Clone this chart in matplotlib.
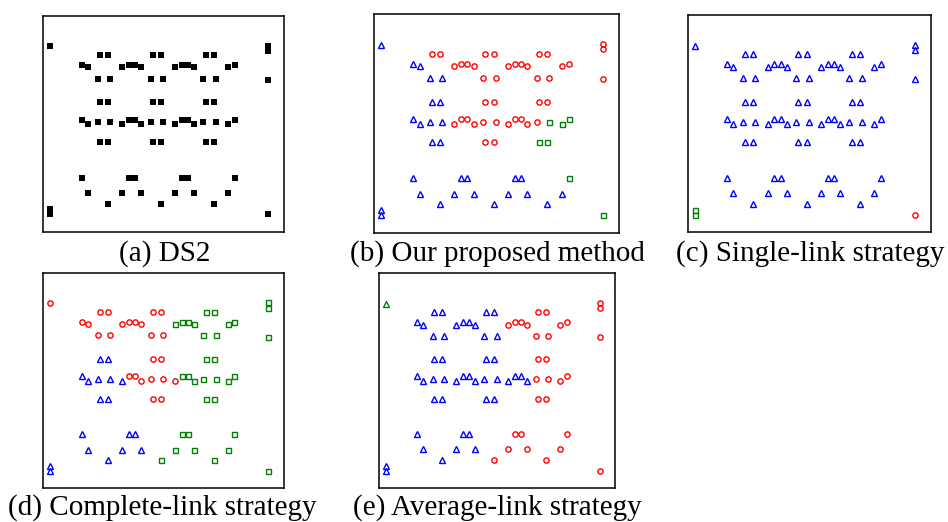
import matplotlib
matplotlib.use("Agg")
import matplotlib.pyplot as plt

# ---- data (percent of plotting box) ----
x_pts = [2.9, 93.4, 93.4, 93.4, 2.9, 2.9, 93.4,
         23.5, 26.9, 45.5, 48.9, 67.5, 70.9,
         16.1, 35.6, 38.2, 57.6, 60.2, 79.5,
         18.7, 32.8, 40.7, 54.7, 62.5, 76.7,
         22.8, 27.8, 44.6, 49.9, 66.5, 71.7,
         23.5, 26.9, 45.5, 48.9, 67.5, 70.9,
         16.1, 35.6, 38.2, 57.6, 60.2, 79.5,
         22.8, 27.8, 44.6, 49.9, 66.5, 71.7,
         18.7, 32.8, 40.7, 54.7, 62.5, 76.7,
         23.5, 26.9, 45.5, 48.9, 67.5, 70.9,
         16.1, 35.6, 38.2, 57.6, 60.2, 79.5,
         18.7, 32.8, 40.7, 54.7, 62.5, 76.7,
         26.9, 48.9, 70.9]
y_pts = [85.8, 86.2, 83.8, 70.4, 10.3, 8.0, 8.0,
         81.9, 81.9, 81.9, 81.9, 81.9, 81.9,
         77.2, 77.2, 77.2, 77.2, 77.2, 77.2,
         76.1, 76.1, 76.1, 76.1, 76.1, 76.1,
         70.9, 70.9, 70.9, 70.9, 70.9, 70.9,
         59.9, 59.9, 59.9, 59.9, 59.9, 59.9,
         51.9, 51.9, 51.9, 51.9, 51.9, 51.9,
         50.8, 50.8, 50.8, 50.8, 50.8, 50.8,
         49.8, 49.8, 49.8, 49.8, 49.8, 49.8,
         41.3, 41.3, 41.3, 41.3, 41.3, 41.3,
         25.0, 25.0, 25.0, 25.0, 25.0, 25.0,
         17.9, 17.9, 17.9, 17.9, 17.9, 17.9,
         13.0, 13.0, 13.0]

# cluster labels: 0 blue triangle, 1 red circle, 2 green square, 3 green triangle
labels_b = [0, 1, 1, 1, 0, 0, 2,
            1, 1, 1, 1, 1, 1,
            0, 1, 1, 1, 1, 1,
            0, 1, 1, 1, 1, 1,
            0, 0, 1, 1, 1, 1,
            0, 0, 1, 1, 1, 1,
            0, 1, 1, 1, 1, 2,
            0, 0, 1, 1, 1, 2,
            0, 1, 1, 1, 1, 2,
            0, 0, 1, 1, 2, 2,
            0, 0, 0, 0, 0, 2,
            0, 0, 0, 0, 0, 0,
            0, 0, 0]
labels_c = [0, 0, 0, 0, 2, 2, 1] + [0] * 69
labels_d = [1, 2, 2, 2, 0, 0, 2,
            1, 1, 1, 1, 2, 2,
            1, 1, 1, 2, 2, 2,
            1, 1, 1, 2, 2, 2,
            1, 1, 1, 1, 2, 2,
            0, 0, 1, 1, 2, 2,
            0, 1, 1, 2, 2, 2,
            0, 0, 1, 1, 2, 2,
            0, 0, 1, 1, 2, 2,
            0, 0, 1, 1, 2, 2,
            0, 0, 0, 2, 2, 2,
            0, 0, 0, 2, 2, 2,
            0, 2, 2]
labels_e = [3, 1, 1, 1, 0, 0, 1,
            0, 0, 0, 0, 1, 1,
            0, 0, 0, 1, 1, 1,
            0, 0, 0, 1, 1, 1,
            0, 0, 0, 0, 1, 1,
            0, 0, 0, 0, 1, 1,
            0, 0, 0, 0, 0, 1,
            0, 0, 0, 0, 1, 1,
            0, 0, 0, 0, 0, 1,
            0, 0, 0, 0, 1, 1,
            0, 0, 0, 1, 1, 1,
            0, 0, 0, 1, 1, 1,
            0, 1, 1]

captions = ["(a) DS2", "(b) Our proposed method", "(c) Single-link strategy",
            "(d) Complete-link strategy", "(e) Average-link strategy"]

styles = {0: ("^", "#0000ff", 4.2),
          1: ("o", "#ff0000", 3.8),
          2: ("s", "#008000", 3.6),
          3: ("^", "#008000", 4.2)}

W, H = 948, 522
fig = plt.figure(figsize=(W / 100, H / 100), dpi=100)

def box(l, r, t, b):
    return [l / W, (H - b) / H, (r - l) / W, (b - t) / H]

rects = [box(43.3, 284.0, 15.7, 231.7),
         box(374.0, 618.7, 14.0, 232.7),
         box(688.0, 930.7, 14.7, 232.3),
         box(43.3, 283.7, 272.7, 488.3),
         box(378.7, 615.3, 273.3, 487.7)]
cap_pos = [(165, 254), (497, 254), (810, 254), (162, 508), (497, 508)]

def setup(ax):
    ax.set_xlim(0, 100)
    ax.set_ylim(0, 100)
    ax.set_xticks([])
    ax.set_yticks([])
    for s in ax.spines.values():
        s.set_linewidth(1.1)
        s.set_color("black")

axes = [fig.add_axes(r) for r in rects]
for ax in axes:
    setup(ax)

# (a) raw data
axes[0].plot(x_pts, y_pts, linestyle="none", marker="s", markersize=4.4,
             color="black", markeredgewidth=0)

for ax, labs in zip(axes[1:], [labels_b, labels_c, labels_d, labels_e]):
    for k, (mk, col, ms) in styles.items():
        xs = [x for x, l in zip(x_pts, labs) if l == k]
        ys = [y for y, l in zip(y_pts, labs) if l == k]
        if xs:
            ax.plot(xs, ys, linestyle="none", marker=mk, markersize=ms,
                    markerfacecolor="none", markeredgecolor=col,
                    markeredgewidth=1.0)

for txt, (cx, cy) in zip(captions, cap_pos):
    fig.text(cx / W, 1 - cy / H, txt, ha="center", va="center",
             fontsize=21, family="Liberation Serif")

fig.savefig("out.png", dpi=100)
